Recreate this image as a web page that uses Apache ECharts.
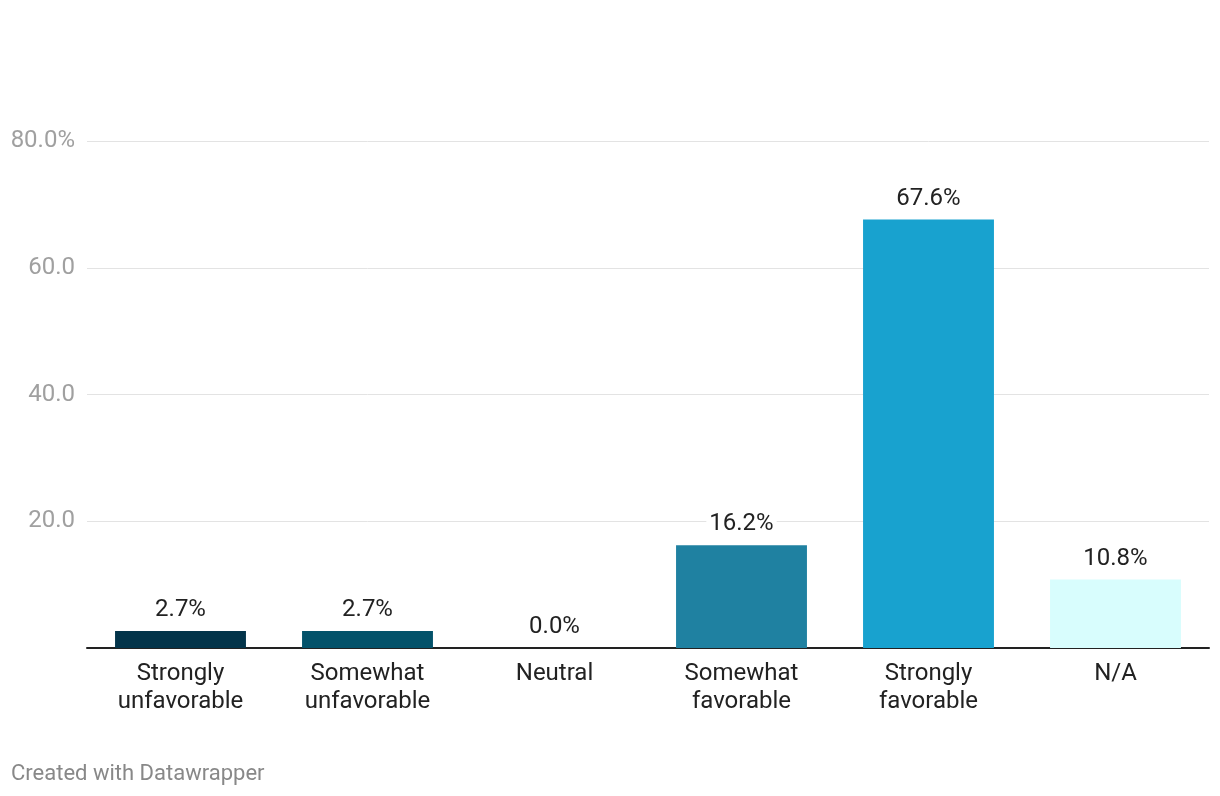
<!DOCTYPE html>
<html><head><meta charset="utf-8">
<script src="https://cdn.jsdelivr.net/npm/echarts@6/dist/echarts.min.js"></script>
<style>html,body{margin:0;padding:0;background:#fff}#c{width:1220px;height:796px}</style>
</head><body><div id="c"></div>
<script>
const categories = ["Strongly\nunfavorable","Somewhat\nunfavorable","Neutral","Somewhat\nfavorable","Strongly\nfavorable","N/A"];
const values = [2.7, 2.7, 0.0, 16.2, 67.6, 10.8];
const barColors = ["#03344a","#03526a","#2a8db0","#1f81a1","#18a2cf","#d8fdfd"];
const yTicks = [0, 20, 40, 60, 80];

const chart = echarts.init(document.getElementById('c'));
chart.setOption({
  animation: false,
  textStyle: {fontFamily: 'Roboto'},
  grid: {left: 87, right: 11, top: 141, bottom: 148, containLabel: false},
  xAxis: {
    type: 'category', data: categories,
    axisLine: {lineStyle: {color: '#222', width: 2}},
    axisTick: {show: false},
    axisLabel: {color: '#222', fontSize: 24, lineHeight: 28, margin: 12, fontFamily: 'Roboto', interval: 0}
  },
  yAxis: {
    type: 'value', min: yTicks[0], max: yTicks[yTicks.length - 1], interval: 20,
    axisLine: {show: false}, axisTick: {show: false},
    splitLine: {lineStyle: {color: '#e3e3e3', width: 1}},
    axisLabel: {color: '#a0a0a0', fontSize: 24, margin: 12, fontFamily: 'Roboto', padding: [5, 0, 0, 0],
      formatter: v => v === 0 ? '' : (v === 80 ? v.toFixed(1) + '%' : v.toFixed(1))}
  },
  series: [{
    type: 'bar', barCategoryGap: '30%',
    data: values.map((v, i) => ({value: v, itemStyle: {color: barColors[i]}})),
    label: {show: true, position: 'top', distance: 9, color: '#222', fontSize: 24, fontFamily: 'Roboto',
      backgroundColor: '#fff', padding: [0, 3],
      formatter: p => p.value.toFixed(1) + '%'}
  }],
  graphic: [{type: 'text', left: 11, top: 763, style: {text: 'Created with Datawrapper', fill: '#888', fontSize: 22, fontFamily: 'Roboto'}}]
});
</script></body></html>
